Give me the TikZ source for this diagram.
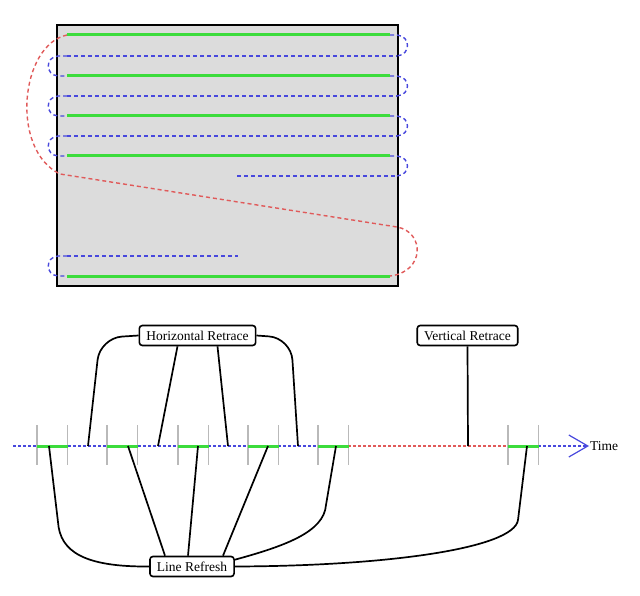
\documentclass[tikz,border=0pt]{standalone}
\usepackage{fontspec}
\setmainfont{Liberation Serif}
\usepackage{tikz}
\usetikzlibrary{arrows.meta}
\definecolor{scangreen}{HTML}{3CDC3C}
\definecolor{retblue}{HTML}{4848DD}
\definecolor{retred}{HTML}{E05A5A}
\definecolor{screengray}{HTML}{DCDCDC}

\begin{document}
\begin{tikzpicture}[x=1pt,y=-1pt,
  every node/.style={font=\fontsize{13.5}{16}\selectfont},
  lbl/.style={draw,line width=1.6pt,rounded corners=3pt,fill=white,
    inner xsep=7pt,inner ysep=0pt,minimum height=20pt},
  scan/.style={scangreen,line width=3pt},
  hret/.style={retblue,line width=1.4pt,dash pattern=on 4pt off 3pt},
  vret/.style={retred,line width=1.4pt,dash pattern=on 4pt off 3pt},
  tick/.style={gray!55,line width=1.8pt},
  link/.style={line width=1.7pt}]
  \useasboundingbox (0,0) rectangle (640,596);
  % screen
  \draw[fill=screengray,line width=2pt] (57,25) rectangle (398,286);
  \foreach \y in {56,96,136} \draw[hret] (67,\y) -- (397,\y);
  \draw[hret] (237,176) -- (397,176);
  \draw[hret] (67,256) -- (238,256);
  \foreach \y/\z in {35/56,76/96,116/136,156/176}
    \draw[hret] (390,\y) -- (397,\y) .. controls (411,\y+1) and (411,\z-1) .. (397,\z);
  \foreach \y/\z in {56/76,96/116,136/156,256/276}
    \draw[hret] (67,\y) -- (58,\y) .. controls (45,\y+1) and (45,\z-1) .. (58,\z) -- (67,\z);
  \draw[vret] (67,35) .. controls (20,45) and (10,150) .. (60,174) -- (397,227)
    .. controls (425,232) and (425,272) .. (390,276);
  \foreach \y in {35,76,116,156,276} \draw[scan] (67,\y) -- (390,\y);

  % time line
  \node[anchor=west,inner sep=1pt] (time) at (589,446) {Time};
  \draw[hret,dash pattern=on 2.5pt off 2.5pt] (13,446) -- (348,446);
  \draw[vret,dash pattern=on 2.5pt off 2.5pt] (348,446) -- (508,446);
  \draw[hret,dash pattern=on 2.5pt off 2.5pt,-{Straight Barb[length=19pt,width=22pt,line width=1.2pt]}]
    (508,446) -- (time.west);
  \foreach \x in {37,107,178,248,318,508} {
    \draw[tick] (\x,425) -- (\x,465);
    \draw[tick] (\x+30.5,425) -- (\x+30.5,465);
    \draw[scan] (\x,446) -- (\x+30.5,446);
  }
  \coordinate (h1) at (88,446);
  \coordinate (h2) at (158,446);
  \coordinate (h3) at (228,446);
  \coordinate (h4) at (298,446);
  \coordinate (v1) at (468,446);
  \coordinate (l1) at (49,446);
  \coordinate (l2) at (128,446);
  \coordinate (l3) at (198,446);
  \coordinate (l4) at (268,446);
  \coordinate (l5) at (336,446);
  \coordinate (l6) at (527,446);

  % labels
  \node[lbl] (hr) at (197.5,335.5) {Horizontal Retrace};
  \node[lbl] (vr) at (467.5,335.5) {Vertical Retrace};
  \node[lbl] (lr) at (192,566.5) {Line Refresh};

  \draw[link,rounded corners=22pt] (hr.west) -- (100,338) -- (h1);
  \draw[link,rounded corners=22pt] (hr.east) -- (291,338) -- (h4);
  \draw[link] ([xshift=-20pt]hr.south) -- (h2);
  \draw[link] ([xshift=20pt]hr.south) -- (h3);
  \draw[link] (vr.south) -- (v1);

  \draw[link] (lr.west) .. controls (85,567) and (60,552) .. (58,522) -- (l1);
  \draw[link] ([xshift=-27pt]lr.north) -- (l2);
  \draw[link] ([xshift=-4pt]lr.north) -- (l3);
  \draw[link] ([xshift=31pt]lr.north) -- (l4);
  \draw[link] ([yshift=-4pt]lr.north east) .. controls (285,546) and (324,532) .. (326,505) -- (l5);
  \draw[link] (lr.east) .. controls (390,566) and (514,548) .. (518,520) -- (l6);
\end{tikzpicture}
\end{document}
